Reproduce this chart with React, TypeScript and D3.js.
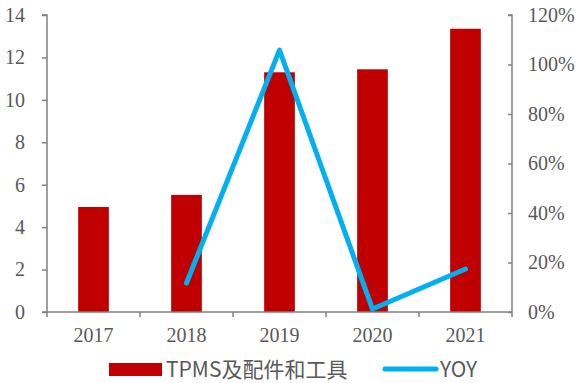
import React, { useRef, useEffect } from "react";
import * as d3 from "d3";

const YEARS = ["2017", "2018", "2019", "2020", "2021"];
const TPMS = [4.95, 5.52, 11.3, 11.44, 13.35];
const YOY: (number | null)[] = [null, 0.117, 1.058, 0.012, 0.174];
const LEFT_TICKS = [0, 2, 4, 6, 8, 10, 12, 14];
const RIGHT_TICKS = [0, 0.2, 0.4, 0.6, 0.8, 1.0, 1.2];

const W = 576;
const H = 383;
const MARGIN = { top: 15, right: 64, bottom: 71, left: 47 };
const BAR = "#C00000";
const LINE = "#00B0F0";
const AXIS = "#808080";
const TEXT = "#595959";

export default function App() {
  const ref = useRef<SVGSVGElement>(null);

  useEffect(() => {
    const svg = d3.select(ref.current);
    svg.selectAll("*").remove();
    const iw = W - MARGIN.left - MARGIN.right;
    const ih = H - MARGIN.top - MARGIN.bottom;
    const g = svg.append("g").attr("transform", `translate(${MARGIN.left},${MARGIN.top})`);

    const x = d3.scaleBand().domain(YEARS).range([0, iw]).paddingInner(0.67).paddingOuter(0.335);
    const xb = d3.scaleBand().domain(YEARS).range([0, iw]);
    const y = d3.scaleLinear().domain([0, 14]).range([ih, 0]);
    const y2 = d3.scaleLinear().domain([0, 1.2]).range([ih, 0]);

    g.selectAll("rect.bar")
      .data(TPMS)
      .enter()
      .append("rect")
      .attr("class", "bar")
      .attr("x", (_, i) => x(YEARS[i])!)
      .attr("width", x.bandwidth())
      .attr("y", (d) => y(d))
      .attr("height", (d) => ih - y(d))
      .attr("fill", BAR);

    const pts = YOY.map((v, i) => ({ v, k: YEARS[i] })).filter((d) => d.v !== null);
    g.append("path")
      .datum(pts)
      .attr("fill", "none")
      .attr("stroke", LINE)
      .attr("stroke-width", 5)
      .attr("stroke-linecap", "round")
      .attr("stroke-linejoin", "round")
      .attr(
        "d",
        d3
          .line<{ v: number | null; k: string }>()
          .x((d) => xb(d.k)! + xb.bandwidth() / 2)
          .y((d) => y2(d.v as number))
      );

    const font = "'Liberation Serif', 'Times New Roman', serif";

    // left axis
    const la = g.append("g").call(d3.axisLeft(y).tickValues(LEFT_TICKS).tickSize(5).tickPadding(17));
    la.select(".domain").attr("stroke", AXIS).attr("stroke-width", 1.5).attr("d", `M-5,0H0V${ih}`);
    la.selectAll(".tick line").attr("stroke", AXIS).attr("stroke-width", 1.5);
    la.selectAll(".tick text").attr("fill", TEXT).style("font-family", font).style("font-size", "20px");

    // right axis
    const ra = g
      .append("g")
      .attr("transform", `translate(${iw},0)`)
      .call(d3.axisRight(y2).tickValues(RIGHT_TICKS).tickSize(-4).tickPadding(16).tickFormat(d3.format(".0%")));
    ra.select(".domain").attr("stroke", AXIS).attr("stroke-width", 1.5).attr("d", `M-4,0H0V${ih}`);
    ra.selectAll(".tick line").attr("stroke", AXIS).attr("stroke-width", 1.5);
    ra.selectAll(".tick text").attr("fill", TEXT).style("font-family", font).style("font-size", "20px");

    // bottom axis
    const ba = g.append("g").attr("transform", `translate(0,${ih})`).call(d3.axisBottom(xb).tickSize(0).tickPadding(16));
    ba.select(".domain").attr("stroke", AXIS).attr("stroke-width", 1.5).attr("d", `M-5,0H${iw}`);
    ba.selectAll(".tick text").attr("fill", TEXT).style("font-family", font).style("font-size", "20px");
    g.append("g")
      .selectAll("line")
      .data(YEARS.concat(["end"]))
      .enter()
      .append("line")
      .attr("x1", (_, i) => (i * iw) / YEARS.length)
      .attr("x2", (_, i) => (i * iw) / YEARS.length)
      .attr("y1", ih)
      .attr("y2", ih + 5)
      .attr("stroke", AXIS)
      .attr("stroke-width", 1.5);

    // legend
    const sans = "'Noto Sans CJK SC', 'Noto Sans', sans-serif";
    const lg = svg.append("g").attr("transform", "translate(0,369)");
    lg.append("rect").attr("x", 109).attr("y", -6).attr("width", 53).attr("height", 13).attr("fill", BAR);
    lg.append("text")
      .attr("x", 166)
      .attr("y", 0)
      .attr("dy", "0.36em")
      .attr("fill", TEXT)
      .style("font-family", sans)
      .style("font-size", "21px")
      .text("TPMS及配件和工具");
    lg.append("line")
      .attr("x1", 385)
      .attr("x2", 436)
      .attr("y1", 0)
      .attr("y2", 0)
      .attr("stroke", LINE)
      .attr("stroke-width", 5)
      .attr("stroke-linecap", "round");
    lg.append("text")
      .attr("x", 440)
      .attr("y", 0)
      .attr("dy", "0.36em")
      .attr("fill", TEXT)
      .style("font-family", sans)
      .style("font-size", "21px")
      .text("YOY");
  }, []);

  return <svg ref={ref} width={W} height={H} style={{ position: "absolute", left: 0, top: 0, background: "#fff" }} />;
}
